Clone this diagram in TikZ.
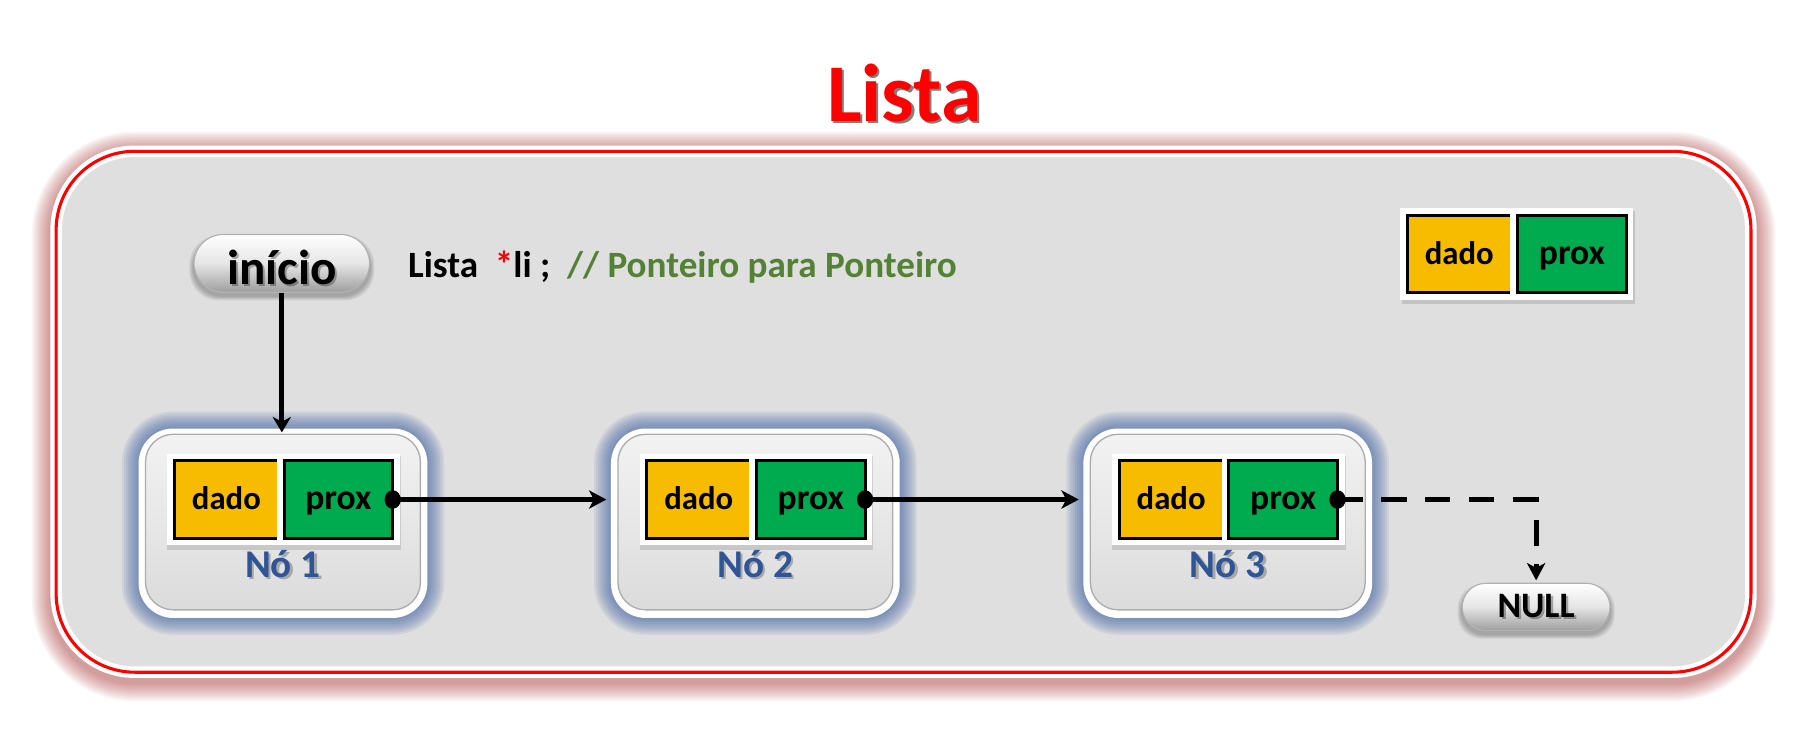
\documentclass[tikz,border=0pt]{standalone}
\usepackage{fontspec}
\setmainfont{Carlito}
\usetikzlibrary{arrows.meta,calc}
\definecolor{framegray}{HTML}{DFDFDF}
\definecolor{dadoY}{HTML}{F7BC00}
\definecolor{proxG}{HTML}{00AA4F}
\definecolor{noBlue}{HTML}{2F5597}
\definecolor{glowBlue}{HTML}{3F62A4}
\definecolor{glowRed}{HTML}{A01818}
\definecolor{cmtGreen}{HTML}{548235}
\definecolor{titleRed}{HTML}{FF0000}
\newcommand\shtext[5]{%
  \node[#3, text=black, text opacity=#5] at ($#2+(2,2)$) {#4};
  \node[#3] (#1) at #2 {#4};}
\begin{document}
\begin{tikzpicture}[x=0.6pt, y=-0.6pt,
  nodebox/.style={rectangle, rounded corners=18pt, fill=white, minimum width=150pt,
    minimum height=98.4pt, inner sep=0pt, outer sep=0pt},
  innerbox/.style={rounded corners=14.4pt, top color=black!5, bottom color=black!14,
    draw=black!32, line width=0.7pt},
  cell/.style={rectangle, draw=black, line width=1.5pt, minimum height=40.2pt,
    inner sep=0pt, outer sep=0pt, text height=10.8pt, text depth=0pt,
    preaction={draw=white, line width=7.5pt}},
  dadocell/.style={cell, fill=dadoY, minimum width=54pt, font=\fontsize{17}{20}\selectfont\bfseries},
  proxcell/.style={cell, fill=proxG, minimum width=56.4pt, font=\fontsize{18.5}{22}\selectfont\bfseries},
  pill/.style={rectangle, draw=black!30, line width=0.6pt, top color=white, bottom color=black!38,
    middle color=black!10, inner sep=0pt},
  softshadow/.style={fill=black, fill opacity=0.07},
  cellshadow/.style={fill=black, fill opacity=0.12},
  ptr/.style={line width=2.6pt, {Circle[length=8.4pt,width=9.6pt]}-{Stealth[length=9pt,width=9.5pt,inset=2.5pt]},
    shorten <=-4.2pt},
  downptr/.style={line width=2.6pt, -{Stealth[length=8pt,width=9.5pt,inset=2.5pt]}},
  nolabel/.style={anchor=base, inner sep=0pt, font=\fontsize{20.4}{24}\selectfont\bfseries, text=noBlue}
]
\useasboundingbox (0,0) rectangle (1568,636);
\fill[white] (0,0) rectangle (1568,636);
% outer frame glow and frame
\foreach \i in {1,...,10}{%
  \pgfmathsetmacro\lw{(10+3.2*\i)*0.6}
  \draw[glowRed, draw opacity=0.05, line width=\lw pt, rounded corners=40.8pt] (48.6,135) rectangle (1516,586);
}
\draw[fill=framegray, draw=white, line width=6pt, rounded corners=40.8pt] (48.6,131) rectangle (1516,582);
\draw[titleRed, line width=1.6pt, rounded corners=40.8pt] (48.6,131) rectangle (1516,582);

% blue glows of the list nodes
\foreach \cx in {245,654,1063}{%
  \foreach \i in {1,...,8}{%
    \pgfmathsetmacro\lw{2.2*\i}
    \draw[glowBlue, draw opacity=0.1, line width=\lw pt, rounded corners=18pt] (\cx-125,371) rectangle (\cx+125,535);
  }
}
% soft shadows of the pills
\foreach \i in {1,...,4}{%
  \fill[softshadow, rounded corners=15pt] (168-\i,206-\i+2) rectangle (320+\i,253+\i+3);
  \fill[softshadow, rounded corners=12.3pt] (1266-\i,508-\i+2) rectangle (1394+\i,546+\i+3);
}
% soft shadow of the legend cells
\fill[cellshadow] (1214,183) rectangle (1416,263);

% title
\shtext{title}{(783,105)}{anchor=base, inner sep=0pt, font=\fontsize{42.6}{50}\selectfont\bfseries, text=titleRed}{Lista}{0.5}

% inicio pill
\node[pill, minimum width=91.2pt, minimum height=30pt, rounded corners=15pt] (ini) at (244,228) {};
\shtext{iniText}{(244,228)}{inner sep=0pt, font=\fontsize{25.5}{30}\selectfont\bfseries, text height=21.6pt, text depth=0pt}{início}{0.3}

% code line
\node[anchor=base west, inner sep=0pt, font=\fontsize{19.3}{23}\selectfont\bfseries] (code) at (353,240)
  {Lista\ \ \textcolor{titleRed}{*}li ;\ \ \textcolor{cmtGreen}{// Ponteiro para Ponteiro}};

% legend
\node[dadocell] (dl) at (1263.5,220) {dado};
\node[proxcell] (pl) at (1361,220) {prox};

% list nodes
\foreach \k/\cx in {1/245, 2/654, 3/1063}{%
  \node[nodebox] (n\k) at (\cx,453) {};
  \draw[innerbox] ($(n\k.north west)+(6,5)$) rectangle ($(n\k.south east)+(-6,-7)$);
  \fill[cellshadow] (\cx-100,395) rectangle (\cx+102,476);
  \node[dadocell] (d\k) at (\cx-49,432.5) {dado};
  \node[proxcell] (p\k) at (\cx+48,432.5) {prox};
  \shtext{lab\k}{(\cx,500)}{nolabel}{Nó \k}{0.25}
}

% NULL pill
\node[pill, minimum width=76.8pt, minimum height=24.6pt, rounded corners=12.3pt] (nullp) at (1330,525.5) {};
\shtext{nullText}{(1330,525.5)}{inner sep=0pt, font=\fontsize{18.6}{22}\selectfont\bfseries, text height=10.8pt, text depth=0pt}{NULL}{0.3}

% connectors
\draw[downptr, shorten >=-2pt] (ini.south) -- (ini.south |- n1.north);
\draw[ptr, shorten >=2.4pt] (p1.east) -- (p1.east -| n2.west);
\draw[ptr, shorten >=2.4pt] (p2.east) -- (p2.east -| n3.west);
\draw[ptr, dash pattern=on 13.2pt off 9.6pt, dash phase=3pt, shorten >=1.2pt]
  (p3.east) -- (p3.east -| nullp.north) -- (nullp.north);
\end{tikzpicture}
\end{document}
